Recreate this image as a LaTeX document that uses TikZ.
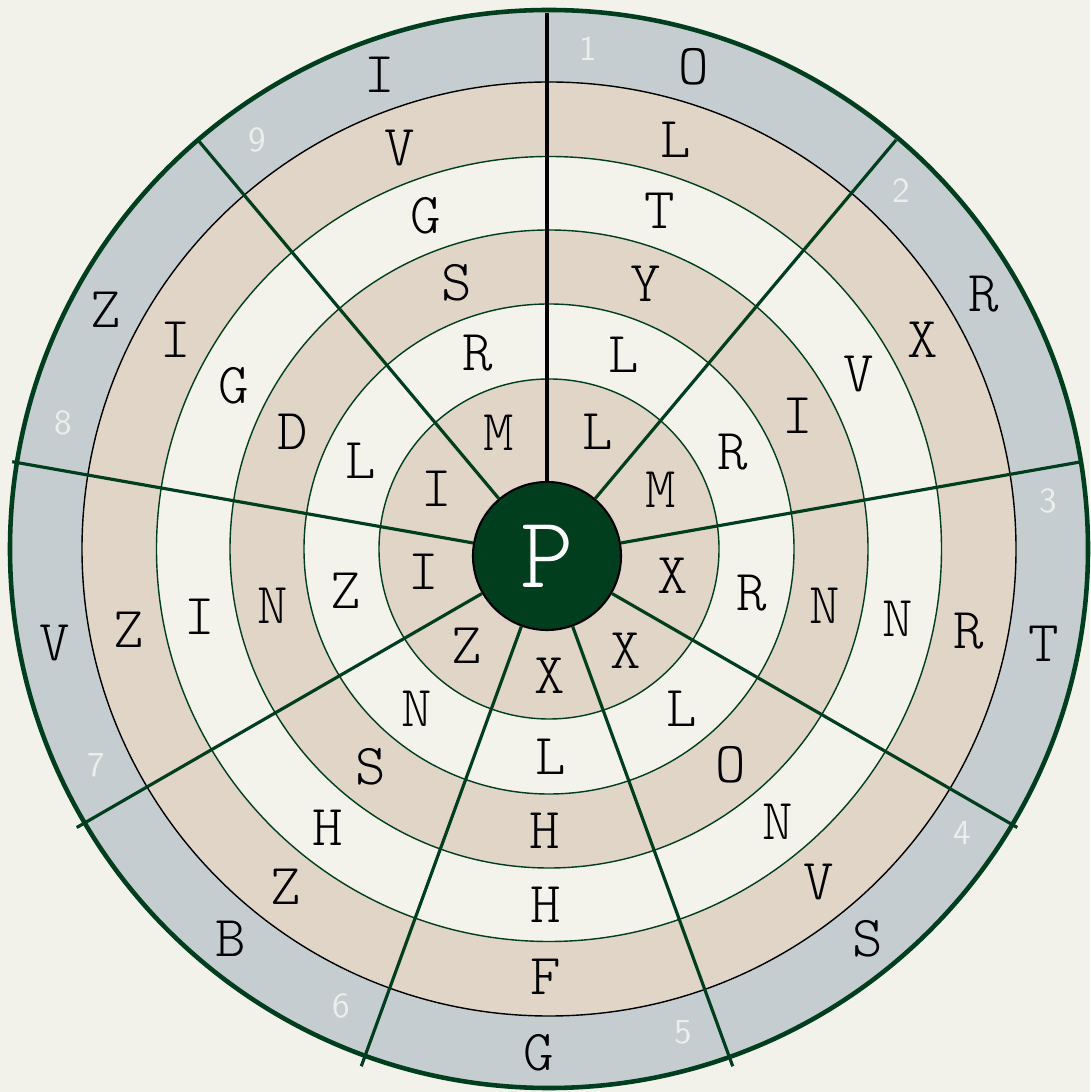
\documentclass[tikz,border=0pt]{standalone}
\usepackage{fontspec}
\usetikzlibrary{calc}
\definecolor{paper}{RGB}{242,242,235}
\definecolor{rimgrey}{RGB}{197,205,208}
\definecolor{ringtan}{RGB}{224,213,199}
\definecolor{ringlight}{RGB}{243,243,236}
\definecolor{wheelgreen}{RGB}{0,62,30}
\definecolor{numwhite}{RGB}{236,238,234}

\tikzset{
  ringline/.style={draw=wheelgreen, line width=0.4pt},
  spoke/.style={draw=wheelgreen, line width=0.9pt},
  letter/.style={font=\ttfamily\fontseries{l}\selectfont\fontsize{16.5}{16.5}\selectfont, inner sep=0pt},
  sectornum/.style={font=\sffamily\fontsize{10}{10}\selectfont, text=numwhite, inner sep=0pt}
}

\begin{document}
\begin{tikzpicture}
  \fill[paper] (-5.49,-5.43) rectangle (5.41,5.49);
  % rings, outside in
  \fill[rimgrey] (0,0) circle (5.39);
  \fill[ringtan] (0,0) circle (4.67);
  \fill[ringlight] (0,0) circle (3.925);
  \fill[ringtan] (0,0) circle (3.19);
  \fill[ringlight] (0,0) circle (2.45);
  \fill[ringtan] (0,0) circle (1.70);
  \foreach \r in {1.70,2.45,3.19,3.925}
    \draw[ringline] (0,0) circle (\r);
  \draw[black, line width=0.4pt] (0,0) circle (4.67);
  \draw[wheelgreen, line width=1.3pt] (0,0) circle (5.39);

  % hub
  \node[circle, fill=wheelgreen, draw=black, line width=0.6pt, minimum size=1.48cm, inner sep=0pt,
        text=white, font=\ttfamily\fontseries{l}\selectfont\fontsize{29}{29}\selectfont] (P) at (-0.02,-0.07) {P};

  % spokes
  \foreach \k in {1,...,9} {
    \pgfmathtruncatemacro\a{90-40*(\k-1)}
    \coordinate (s\k) at ($(P)+(\a:5.43)$);
  }
  \draw[black, line width=0.9pt] (P.90) -- (s1);
  \foreach \k in {2,...,9} {
    \pgfmathtruncatemacro\a{90-40*(\k-1)}
    \draw[spoke] (P.\a) -- (s\k);
  }

  % letters, sector by sector from the hub outwards (letter/angle)
  \def\ringmid{{0,1.27,2.08,2.82,3.555,4.28,5.035}}
  \foreach \word [count=\k] in {
      {L/67.4,L/68.9,Y/69.9,T/71.8,L/72.8,O/73.3},
      {M/28,R/27.8,I/28.2,V/29.4,X/29.2,R/30.4},
      {X/-12.3,R/-12.3,N/-11.7,N/-11.3,R/-11.1,T/-10.9},
      {X/-53,L/-50.2,O/-49.8,N/-50,V/-51,S/-50.8},
      {X/-89.6,L/-89.5,H/-90.8,H/-90.5,F/-90.4,G/-91.2},
      {Z/-130.1,N/-129.6,S/-129.3,H/-128.4,Z/-127.9,B/-129.2},
      {I/190.3,Z/191.7,N/191.7,I/191,Z/190.9,V/190.8},
      {I/151.8,L/154.9,D/155.4,G/152.6,I/150.7,Z/151.6},
      {M/113.5,R/110,S/109,G/110.3,V/110.4,I/109.6}}
    \foreach \c/\ang [count=\j] in \word {
      \pgfmathsetmacro\r{\ringmid[\j]}
      \node[letter] (c\k-\j) at (\ang:\r) {\c};
    }

  % sector numbers
  \foreach \k in {1,...,9}
    \node[sectornum] (n\k) at ({85.5-40*(\k-1)}:5.02) {\k};
\end{tikzpicture}
\end{document}
